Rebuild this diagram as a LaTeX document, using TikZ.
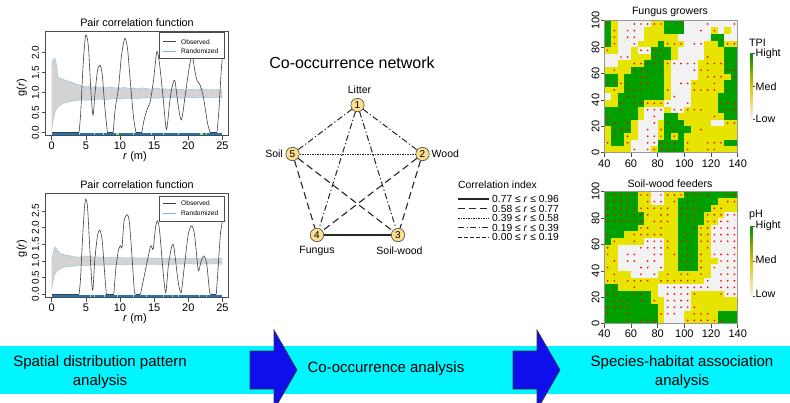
\documentclass[tikz,border=0pt]{standalone}
\usepackage{fontspec}
\setmainfont{Liberation Sans}

\definecolor{mgreen}{RGB}{0,160,0}
\definecolor{myellow}{RGB}{230,228,0}
\definecolor{mgray}{RGB}{242,242,242}
\definecolor{bandcyan}{RGB}{0,245,255}
\definecolor{arrowblue}{RGB}{15,15,235}
\definecolor{nodefill}{RGB}{252,222,140}
\definecolor{envfill}{RGB}{211,211,211}
\definecolor{envline}{RGB}{120,180,225}
\definecolor{stripblue}{RGB}{35,115,185}
\definecolor{striplime}{RGB}{175,230,110}
\definecolor{barhigh}{RGB}{0,140,0}
\definecolor{barmid}{RGB}{225,195,0}
\definecolor{barlowmid}{RGB}{235,160,110}
\definecolor{barlow}{RGB}{248,240,240}

% cell colours: upper case = plain cell, lower case = cell with a red point
\colorlet{mapG}{mgreen}\colorlet{mapg}{mgreen}
\colorlet{mapY}{myellow}\colorlet{mapy}{myellow}
\colorlet{mapW}{mgray}\colorlet{mapw}{mgray}
\expandafter\def\csname mapdotg\endcsname{}
\expandafter\def\csname mapdoty\endcsname{}
\expandafter\def\csname mapdotw\endcsname{}

\newcount\mapcolidx
\def\mapcell#1{%
  \fill[fill=map#1] ({\mapx+\the\mapcolidx*6.67},\mapy) rectangle ++(6.8,6.72);%
  \ifcsname mapdot#1\endcsname
    \fill[red] ({\mapx+\the\mapcolidx*6.67+3.33},{\mapy+3.3}) circle[radius=0.95];%
  \fi
  \global\advance\mapcolidx by 1\relax}
\def\mapcellsloop#1{\ifx#1\relax\else\mapcell{#1}\expandafter\mapcellsloop\fi}
% #1 left edge, #2 top edge, #3 rows of 20 cells, top row first
\newcommand\drawmap[3]{%
  \def\mapx{#1}%
  \foreach \rowstr [count=\ri from 0] in {#3} {%
    \pgfmathsetmacro\mapy{#2+\ri*6.6}%
    \global\mapcolidx=0
    \expandafter\mapcellsloop\rowstr\relax
  }}

\begin{document}
\begin{tikzpicture}[x=1pt,y=-1pt]
\tikzset{
  ticklab/.style={font=\fontsize{11}{13}\selectfont, inner sep=0pt},
  yticklab/.style={font=\fontsize{10}{12}\selectfont, inner sep=0pt, rotate=90},
  plottitle/.style={font=\fontsize{10.8}{13}\selectfont, inner sep=0pt},
  leglab/.style={font=\fontsize{6.6}{8}\selectfont, inner sep=0pt, anchor=west},
  obsline/.style={draw=black!75, line width=0.6pt},
  envborder/.style={draw=envline, line width=0.5pt, dash pattern=on 1.2pt off 0.8pt},
  framebox/.style={draw=black!70, line width=0.5pt},
  axisline/.style={draw=black!70, line width=0.5pt},
  maptitle/.style={font=\fontsize{10.6}{12}\selectfont, inner sep=0pt},
  mapframe/.style={draw=black!40, line width=0.5pt},
  barlab/.style={font=\fontsize{10.7}{12}\selectfont, inner sep=0pt, anchor=west},
  netnode/.style={circle, draw=black!70, fill=nodefill, minimum size=13.4pt, inner sep=0pt, font=\fontsize{10}{12}\selectfont, line width=0.6pt},
  netlabel/.style={font=\fontsize{10.5}{12}\selectfont, inner sep=0pt},
  corrA/.style={line width=1.1pt, draw=black!85},
  corrB/.style={line width=1.1pt, draw=black!85, dash pattern=on 7pt off 4pt},
  corrC/.style={line width=0.8pt, draw=black!85, dash pattern=on 1.5pt off 1pt},
  corrD/.style={line width=1pt, draw=black!85, dash pattern=on 6pt off 2.5pt on 1.2pt off 2.5pt},
  corrE/.style={line width=1pt, draw=black!85, dash pattern=on 3.5pt off 2.5pt},
  corrlab/.style={font=\fontsize{10.3}{12}\selectfont, inner sep=0pt, anchor=west},
  bandtext/.style={font=\fontsize{15}{19.5}\selectfont, align=center, inner sep=0pt},
  blockarrow/.style={fill=arrowblue, draw=black!80, line width=0.6pt},
}
\useasboundingbox (0,0) rectangle (790,402);
\clip (0,0) rectangle (790,402);

%================ upper pair correlation panel ================
\node[plottitle] (pcfTitleA) at (137,22.7) {Pair correlation function};
\begin{scope}[shift={(51.7,132.7)}, x=6.83pt, y=40pt]
  \fill[envfill] plot coordinates {(0,1.70) (0.15,1.80) (0.3,1.84) (0.45,1.86) (0.6,1.80) (0.75,1.62) (0.9,1.42) (1.05,1.37) (1.3,1.36) (1.6,1.34) (2,1.31) (2.5,1.28) (3,1.26) (3.5,1.22) (4,1.20) (4.5,1.16) (5,1.15) (5.5,1.16) (6,1.14) (6.5,1.15) (7,1.13) (7.5,1.14) (8,1.12) (8.5,1.14) (9,1.13) (9.5,1.12) (10,1.11) (10.5,1.13) (11,1.12) (11.5,1.11) (12,1.12) (12.5,1.10) (13,1.11) (13.5,1.12) (14,1.10) (14.5,1.09) (15,1.10) (15.5,1.11) (16,1.09) (16.5,1.10) (17,1.08) (17.5,1.09) (18,1.10) (18.5,1.08) (19,1.09) (19.5,1.07) (20,1.08) (20.5,1.09) (21,1.07) (21.5,1.08) (22,1.10) (22.5,1.08) (23,1.07) (23.5,1.08) (24,1.07) (24.5,1.08) (25,1.07)}
    -- plot coordinates {(25,0.87) (24,0.88) (23,0.87) (22,0.88) (21,0.87) (20,0.88) (19,0.86) (18,0.87) (17,0.88) (16,0.87) (15,0.86) (14,0.87) (13,0.86) (12,0.85) (11,0.86) (10,0.84) (9,0.85) (8,0.83) (7,0.84) (6,0.83) (5,0.81) (4.5,0.82) (4,0.81) (3.5,0.80) (3,0.79) (2.5,0.77) (2,0.75) (1.5,0.72) (1,0.66) (0.7,0.60) (0.5,0.52) (0.3,0.40) (0.15,0.25) (0,0.05)} -- cycle;
  \draw[envborder] plot coordinates {(0,1.70) (0.15,1.80) (0.3,1.84) (0.45,1.86) (0.6,1.80) (0.75,1.62) (0.9,1.42) (1.05,1.37) (1.3,1.36) (1.6,1.34) (2,1.31) (2.5,1.28) (3,1.26) (3.5,1.22) (4,1.20) (4.5,1.16) (5,1.15) (5.5,1.16) (6,1.14) (6.5,1.15) (7,1.13) (7.5,1.14) (8,1.12) (8.5,1.14) (9,1.13) (9.5,1.12) (10,1.11) (10.5,1.13) (11,1.12) (11.5,1.11) (12,1.12) (12.5,1.10) (13,1.11) (13.5,1.12) (14,1.10) (14.5,1.09) (15,1.10) (15.5,1.11) (16,1.09) (16.5,1.10) (17,1.08) (17.5,1.09) (18,1.10) (18.5,1.08) (19,1.09) (19.5,1.07) (20,1.08) (20.5,1.09) (21,1.07) (21.5,1.08) (22,1.10) (22.5,1.08) (23,1.07) (23.5,1.08) (24,1.07) (24.5,1.08) (25,1.07)};
  \draw[envborder] plot coordinates {(25,0.87) (24,0.88) (23,0.87) (22,0.88) (21,0.87) (20,0.88) (19,0.86) (18,0.87) (17,0.88) (16,0.87) (15,0.86) (14,0.87) (13,0.86) (12,0.85) (11,0.86) (10,0.84) (9,0.85) (8,0.83) (7,0.84) (6,0.83) (5,0.81) (4.5,0.82) (4,0.81) (3.5,0.80) (3,0.79) (2.5,0.77) (2,0.75) (1.5,0.72) (1,0.66) (0.7,0.60) (0.5,0.52) (0.3,0.40) (0.15,0.25) (0,0.05)};
  \draw[obsline] (0,0) -- (4,0);
  \draw[obsline] plot[smooth, tension=0.45] coordinates {(4,0) (4.25,0.5) (4.6,1.7) (4.9,2.35) (5.1,2.44) (5.4,2.1) (5.75,1.0) (6.05,0.44) (6.35,1.0) (6.7,1.55) (7.07,1.69) (7.4,1.45) (7.8,0.6) (8.15,0.02)};
  \draw[obsline] (8.15,0) -- (9,0);
  \draw[obsline] plot[smooth, tension=0.45] coordinates {(9,0) (9.3,0.6) (9.8,1.15) (10.2,1.9) (10.7,2.36) (11.1,2.1) (11.5,1.3) (12.0,0.35) (12.35,0)};
  \draw[obsline] (12.35,0) -- (13.2,0);
  \draw[obsline] plot[smooth, tension=0.45] coordinates {(13.2,0) (13.5,0.3) (14.0,0.6) (14.4,0.75) (14.9,1.3) (15.4,2.03) (15.8,1.7) (16.3,0.9) (16.8,0.08) (17.3,0.8) (17.7,1.2) (18.05,1.29) (18.5,0.7) (19.0,0.32) (19.6,1.0) (20.2,1.7) (20.6,1.9) (21.0,1.5) (21.3,1.3) (21.7,1.2) (22.2,0.9) (22.8,0.25) (23.2,0)};
  \draw[obsline] (23.2,0) -- (24.2,0);
  \draw[obsline] plot[smooth, tension=0.45] coordinates {(24.2,0) (24.5,0.6) (24.8,1.5) (25,1.9)};
\end{scope}
\fill[stripblue] (51.7,132.7) rectangle (222.45,135.3);
\foreach \r/\w in {4.1/1.0, 6.2/0.8, 7.6/0.8, 9.6/2.6, 11.9/0.8, 14.6/0.8, 16.3/0.8, 18.5/0.8, 21.9/2.6, 22.6/0.8}
  \fill[striplime] ({51.7+6.83*\r-\w/2},132.7) rectangle ++(\w,2.6);
\draw[framebox] (45.7,31.7) rectangle (228.7,135.5);
\foreach \g/\lab [count=\k] in {0/0.0, 0.5/0.5, 1/1.0, 1.5/1.5, 2/2.0} {
  \draw[axisline] (45.7,{132.7-40*\g}) -- (41.7,{132.7-40*\g});
  \node[yticklab] (yA\k) at (35.5,{132.7-40*\g}) {\lab};
}
\foreach \r [count=\k] in {0,5,...,25} {
  \draw[axisline] ({51.7+6.83*\r},135.5) -- ({51.7+6.83*\r},139.5);
  \node[ticklab] (xA\k) at ({51.7+6.83*\r},146) {\r};
}
\node[ticklab, rotate=90] (gA) at (21.7,88) {g(\textit{r})};
\node[ticklab] (rA) at (135,157) {\textit{r} (m)};
\draw[framebox, fill=white] (159,32.7) rectangle (224.3,58.3);
\coordinate (obsA1) at (163.3,41.7); \coordinate (obsA2) at (175.7,41.7);
\draw[obsline] (obsA1) -- (obsA2);
\node[leglab] (obsAt) at (181,41.7) {Observed};
\coordinate (rndA1) at (163.3,51); \coordinate (rndA2) at (175.7,51);
\draw[envborder] (rndA1) -- (rndA2);
\node[leglab] (rndAt) at (181,51) {Randomized};

%================ lower pair correlation panel ================
\node[plottitle] (pcfTitleB) at (137,185) {Pair correlation function};
\begin{scope}[shift={(51.7,294.3)}, x=6.83pt, y=33.4pt]
  \fill[envfill] plot coordinates {(0,1.00) (0.15,1.18) (0.3,1.32) (0.45,1.42) (0.6,1.40) (0.8,1.32) (1.0,1.27) (1.3,1.22) (1.6,1.20) (2,1.18) (2.5,1.16) (3,1.14) (3.5,1.12) (4,1.11) (4.5,1.14) (5,1.15) (5.5,1.13) (6,1.12) (6.5,1.12) (7,1.11) (8,1.10) (9,1.11) (10,1.10) (11,1.09) (12,1.10) (13,1.08) (14,1.09) (15,1.08) (16,1.07) (17,1.08) (18,1.07) (19,1.08) (20,1.07) (21,1.08) (22,1.07) (23,1.06) (24,1.07) (25,1.07)}
    -- plot coordinates {(25,0.90) (24,0.91) (22,0.90) (20,0.91) (18,0.90) (16,0.89) (14,0.90) (12,0.89) (10,0.88) (9,0.89) (8,0.88) (7,0.87) (6,0.88) (5,0.86) (4,0.86) (3,0.84) (2,0.82) (1.6,0.80) (1.2,0.76) (0.8,0.70) (0.5,0.62) (0.3,0.50) (0.15,0.35) (0,0.15)} -- cycle;
  \draw[envborder] plot coordinates {(0,1.00) (0.15,1.18) (0.3,1.32) (0.45,1.42) (0.6,1.40) (0.8,1.32) (1.0,1.27) (1.3,1.22) (1.6,1.20) (2,1.18) (2.5,1.16) (3,1.14) (3.5,1.12) (4,1.11) (4.5,1.14) (5,1.15) (5.5,1.13) (6,1.12) (6.5,1.12) (7,1.11) (8,1.10) (9,1.11) (10,1.10) (11,1.09) (12,1.10) (13,1.08) (14,1.09) (15,1.08) (16,1.07) (17,1.08) (18,1.07) (19,1.08) (20,1.07) (21,1.08) (22,1.07) (23,1.06) (24,1.07) (25,1.07)};
  \draw[envborder] plot coordinates {(25,0.90) (24,0.91) (22,0.90) (20,0.91) (18,0.90) (16,0.89) (14,0.90) (12,0.89) (10,0.88) (9,0.89) (8,0.88) (7,0.87) (6,0.88) (5,0.86) (4,0.86) (3,0.84) (2,0.82) (1.6,0.80) (1.2,0.76) (0.8,0.70) (0.5,0.62) (0.3,0.50) (0.15,0.35) (0,0.15)};
  \draw[obsline] (0,0) -- (4,0);
  \draw[obsline] plot[smooth, tension=0.45] coordinates {(4,0) (4.2,0.4) (4.5,1.6) (4.8,2.6) (5.0,2.85) (5.25,2.6) (5.6,1.3) (5.9,0.25) (6.05,0.18) (6.3,1.0) (6.7,1.75) (7.05,1.92) (7.4,1.6) (7.8,0.5) (8.0,0)};
  \draw[obsline] (8,0) -- (9.1,0);
  \draw[obsline] plot[smooth, tension=0.45] coordinates {(9.1,0) (9.4,0.8) (9.8,1.35) (10.1,1.45) (10.3,1.42) (10.6,2.2) (11.1,2.38) (11.4,2.1) (11.8,1.0) (12.1,0.1) (12.3,0)};
  \draw[obsline] (12.3,0) -- (13,0);
  \draw[obsline] plot[smooth, tension=0.45] coordinates {(13,0) (13.3,0.3) (13.9,0.9) (14.5,1.45) (14.85,1.35) (15.2,2.0) (15.5,2.2) (15.8,1.9) (16.3,0.7) (16.7,0.05) (17.1,0.9) (17.6,1.45) (17.9,1.4) (18.5,0.4) (18.95,0.05) (19.4,0.8) (20.0,1.8) (20.5,2.05) (20.9,1.8) (21.3,1.0) (21.5,0.7) (21.9,1.0) (22.3,1.15) (22.7,0.9) (23.1,0.1) (23.3,0)};
  \draw[obsline] (23.3,0) -- (24.1,0);
  \draw[obsline] plot[smooth, tension=0.45] coordinates {(24.1,0) (24.4,0.9) (24.7,1.8) (25,2.2)};
\end{scope}
\fill[stripblue] (51.7,294.5) rectangle (222.45,297.1);
\foreach \r/\w in {5.7/0.8, 6.3/0.8, 7.7/0.8, 9.6/0.8, 11.9/0.8, 13.9/0.8, 16.4/0.8, 17.6/0.8, 18.6/0.8, 21.6/0.8, 22.7/0.8}
  \fill[striplime] ({51.7+6.83*\r-\w/2},294.5) rectangle ++(\w,2.6);
\draw[framebox] (45.7,193.3) rectangle (228.7,297.5);
\foreach \g/\lab [count=\k] in {0/0.0, 0.5/0.5, 1/1.0, 1.5/1.5, 2/2.0, 2.5/2.5} {
  \draw[axisline] (45.7,{294.3-33.4*\g}) -- (41.7,{294.3-33.4*\g});
  \node[yticklab] (yB\k) at (35.5,{294.3-33.4*\g}) {\lab};
}
\foreach \r [count=\k] in {0,5,...,25} {
  \draw[axisline] ({51.7+6.83*\r},297.5) -- ({51.7+6.83*\r},301.5);
  \node[ticklab] (xB\k) at ({51.7+6.83*\r},308) {\r};
}
\node[ticklab, rotate=90] (gB) at (21.7,248.3) {g(\textit{r})};
\node[ticklab] (rB) at (135,319) {\textit{r} (m)};
\draw[framebox, fill=white] (159.3,196) rectangle (224.3,221.7);
\coordinate (obsB1) at (163.3,203.3); \coordinate (obsB2) at (175.7,203.3);
\draw[obsline] (obsB1) -- (obsB2);
\node[leglab] (obsBt) at (181,203.3) {Observed};
\coordinate (rndB1) at (163.3,213.3); \coordinate (rndB2) at (175.7,213.3);
\draw[envborder] (rndB1) -- (rndB2);
\node[leglab] (rndBt) at (181,213.3) {Randomized};

%================ co-occurrence network ================
\node[font=\fontsize{16}{19}\selectfont, inner sep=0pt] (netTitle) at (352,63) {Co-occurrence network};
\node[netnode] (n1) at (357.5,105) {1};
\node[netnode] (n2) at (422.5,154) {2};
\node[netnode] (n3) at (398,235) {3};
\node[netnode] (n4) at (317,235) {4};
\node[netnode] (n5) at (292.5,154) {5};
\draw[corrD] (n1) -- (n2);
\draw[corrD] (n1) -- (n5);
\draw[corrD] (n1) -- (n4);
\draw[corrD] (n1) -- (n3);
\draw[corrC] (n5) -- (n2);
\draw[corrB] (n5) -- (n4);
\draw[corrB] (n5) -- (n3);
\draw[corrB] (n2) -- (n4);
\draw[corrB] (n2) -- (n3);
\draw[corrA] (n4) -- (n3);
\node[netlabel] (labLitter) at (359.5,89.5) {Litter};
\node[netlabel, anchor=west] (labWood) at (431.5,154) {Wood};
\node[netlabel, anchor=east] (labSoil) at (283,154) {Soil};
\node[netlabel] (labFungus) at (317,250.5) {Fungus};
\node[netlabel] (labSoilwood) at (399.5,250.5) {Soil-wood};

% legend of line styles
\node[font=\fontsize{10.4}{12}\selectfont, inner sep=0pt, anchor=west] (corrHead) at (458,185) {Correlation index};
\coordinate (ka1) at (458,199);   \coordinate (kb1) at (489,199);
\coordinate (ka2) at (458,208.5); \coordinate (kb2) at (489,208.5);
\coordinate (ka3) at (458,218);   \coordinate (kb3) at (489,218);
\coordinate (ka4) at (458,227.5); \coordinate (kb4) at (489,227.5);
\coordinate (ka5) at (458,237);   \coordinate (kb5) at (489,237);
\draw[corrA] (ka1) -- (kb1);
\draw[corrB] (ka2) -- (kb2);
\draw[corrC] (ka3) -- (kb3);
\draw[corrD] (ka4) -- (kb4);
\draw[corrE] (ka5) -- (kb5);
\node[corrlab] (kt1) at (492,199)   {0.77 ≤ \textit{r} ≤ 0.96};
\node[corrlab] (kt2) at (492,208.5) {0.58 ≤ \textit{r} ≤ 0.77};
\node[corrlab] (kt3) at (492,218)   {0.39 ≤ \textit{r} ≤ 0.58};
\node[corrlab] (kt4) at (492,227.5) {0.19 ≤ \textit{r} ≤ 0.39};
\node[corrlab] (kt5) at (492,237)   {0.00 ≤ \textit{r} ≤ 0.19};

%================ habitat maps ================
\node[maptitle] (mapTitleA) at (670,11.7) {Fungus growers};
\drawmap{604.3}{20.7}{gYWWwwwyyGGgWWWwWWWw, GyWwwWYYYGGGWWwWyWYW, GyWwwWYYYYYWWWWWGGWW, gyWWwYYYGyyyWwwYYGyy, yYWWYwwggGYWWWWYYYGG, WWwwYYYggGYWWWWyYYGG, WWYYyygggywwwwYyyygG, YyYYgggGgYWWWwyyYYgg, GGYGGggGGYWWWWYyyyYg, ggygGggGGYWwwyYYyYGG, YyYgggGGGyWWWyyyyYgG, WYGggGGGGYwWWYYYYGGG, YYgGggyyywWWwYYYYggg, GGgGGYwwwYwwyyyYYGgg, gGGGGYWwWGGYYYYYyYGG, ggGgYWWwYgGgYYYYWWyy, YgggYWwWyGgGGYyYYYYY, YgGyYWwwyGyGYYYYYYYY, yGGyWWwwgggGyYYyyyGG, YYYYwWwygggGyYYyyYYY}
\draw[mapframe] (604.3,20.7) rectangle (737.7,152.7);
\foreach \v [count=\k] in {0,20,...,100} {
  \draw[axisline] (604.3,{152.7-1.32*\v}) -- (600.5,{152.7-1.32*\v});
  \node[ticklab, rotate=90] (myA\k) at (595.5,{152.7-1.32*\v}) {\v};
}
\foreach \v [count=\k] in {40,60,...,140} {
  \draw[axisline] ({604.3+1.334*(\v-40)},152.7) -- ({604.3+1.334*(\v-40)},156.5);
  \node[ticklab] (mxA\k) at ({604.3+1.334*(\v-40)},163.5) {\v};
}
\node[barlab] (tpi) at (749,42.7) {TPI};
\shade[top color=barhigh, bottom color=barmid] (750.3,53.3) rectangle (752.8,86.3);
\shade[top color=barmid, middle color=barlowmid, bottom color=barlow] (750.3,86.2) rectangle (752.8,119);
\draw[axisline] (752.8,53.3) -- (755.3,53.3);
\draw[axisline] (752.8,86.3) -- (755.3,86.3);
\draw[axisline] (752.8,119) -- (755.3,119);
\node[barlab] (hiA) at (755.5,53.3) {Hight};
\node[barlab] (meA) at (755.5,86.5) {Med};
\node[barlab] (loA) at (755.5,119.3) {Low};

\node[maptitle] (mapTitleB) at (670,184) {Soil-wood feeders};
\drawmap{604.3}{191.7}{GggggyyWwyyyggggGGgg, ggggGYywwYyGggGGGYyy, gggggyyyyyYggggGyyYY, ggggggyYyyYgggGyyyww, ggggggYyyyYGggGyywwW, GGGGGyyYyYYGGgyywwww, gGGYyyyyyYYGgGyywwww, GyYYyYwwwyYggGyywwww, yYWWWwwwwyYGgGYyWWWw, yYWwwWWwwYyGgGyYwwww, YyWwwWwwWYYggGyYYwww, yYWWWwwWwYYGgGyYwWww, YyYYWwWwYyYyyYyYWwww, yyYyyyyYyyyyyyYwWwww, GgYYyYYYWwwwwwwwWwww, ggGGggGYWwwwwyYYYyww, GgggGgGyYwwwwYYYYYYY, ggggGGGGYwwwwyYYYYYY, gGGgGGGGywwWYyyyYGGG, GGGgGgggYWWWyyyyygGG}
\draw[mapframe] (604.3,191.7) rectangle (737.7,323.7);
\foreach \v [count=\k] in {0,20,...,100} {
  \draw[axisline] (604.3,{323.7-1.32*\v}) -- (600.5,{323.7-1.32*\v});
  \node[ticklab, rotate=90] (myB\k) at (595.5,{323.7-1.32*\v}) {\v};
}
\foreach \v [count=\k] in {40,60,...,140} {
  \draw[axisline] ({604.3+1.334*(\v-40)},323.7) -- ({604.3+1.334*(\v-40)},327.5);
  \node[ticklab] (mxB\k) at ({604.3+1.334*(\v-40)},334) {\v};
}
\node[barlab] (ph) at (749,215) {pH};
\shade[top color=barhigh, bottom color=barmid] (750.3,226) rectangle (752.8,261.3);
\shade[top color=barmid, middle color=barlowmid, bottom color=barlow] (750.3,261.2) rectangle (752.8,296.7);
\draw[axisline] (752.8,226) -- (755.3,226);
\draw[axisline] (752.8,261.3) -- (755.3,261.3);
\draw[axisline] (752.8,296.7) -- (755.3,296.7);
\node[barlab] (hiB) at (755.5,226) {Hight};
\node[barlab] (meB) at (755.5,260) {Med};
\node[barlab] (loB) at (755.5,293.5) {Low};

%================ workflow band ================
\fill[bandcyan] (0,346) rectangle (790,394);
\draw[blockarrow] (250,351) -- (274,351) -- (274,330) -- (297,370) -- (274,410) -- (274,389) -- (250,389) -- cycle;
\draw[blockarrow] (513,351) -- (537,351) -- (537,330) -- (560,370) -- (537,410) -- (537,389) -- (513,389) -- cycle;
\node[bandtext] (stepL) at (100,372) {Spatial distribution pattern\\analysis};
\node[bandtext] (stepM) at (386,369) {Co-occurrence analysis};
\node[bandtext] (stepR) at (682,372) {Species-habitat association\\analysis};
\end{tikzpicture}
\end{document}
